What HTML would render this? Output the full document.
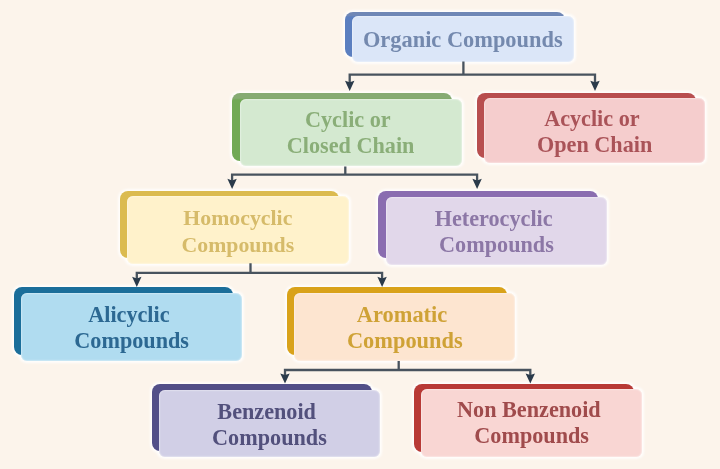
<!DOCTYPE html><html><head><meta charset="utf-8"><style>
*{margin:0;padding:0;box-sizing:border-box}
html,body{width:720px;height:469px;overflow:hidden;background:#fcf4eb}
body{position:relative;font-family:"Liberation Serif",serif;font-weight:bold;font-size:22.2px}
.b{position:absolute;border-radius:8px;box-shadow:0 0 2.5px 1.3px rgba(255,255,255,.85)}
.f{position:absolute;border-radius:6px;display:flex;flex-direction:column;align-items:center;justify-content:center;line-height:26.4px;text-align:center;box-shadow:inset 0 0 1.5px .5px rgba(255,255,255,.6);white-space:nowrap;padding-top:3px}
svg{position:absolute;left:0;top:0}
#w{position:absolute;left:0;top:0;width:720px;height:469px;filter:blur(.35px)}
.g{position:absolute;border-radius:6px;box-shadow:0 0 2.5px 1.3px rgba(255,255,255,.85)}
</style></head><body><div id="w">
<div class="g" style="left:351.6px;top:16.0px;width:222.4px;height:46.3px"></div>
<div class="b" style="left:345.1px;top:12.2px;width:219.5px;height:45px;background:linear-gradient(180deg,#6f87b6 0,#6f87b6 3.3px,#5b7fc0 5.3px)"></div>
<div class="f" style="left:351.6px;top:16.0px;width:222.4px;height:46.3px;background:#dbe6f8;color:#7489ae;padding-top:2.4px;font-size:22.4px"><div>Organic Compounds</div></div>
<div class="g" style="left:239.5px;top:98.7px;width:222.2px;height:67.8px"></div>
<div class="b" style="left:232.25px;top:93.1px;width:219.5px;height:68px;background:linear-gradient(180deg,#86ab74 0,#86ab74 5.1px,#71a955 7.1px)"></div>
<div class="f" style="left:239.5px;top:98.7px;width:222.2px;height:67.8px;background:#d4e9d0;color:#8aae78;padding-top:1.4px;font-size:22.2px"><div>Cyclic or&nbsp;<br>Closed Chain</div></div>
<div class="g" style="left:484px;top:98px;width:221.3px;height:64.8px"></div>
<div class="b" style="left:476.7px;top:93.1px;width:219.5px;height:65px;background:#b84e4f"></div>
<div class="f" style="left:484px;top:98px;width:221.3px;height:64.8px;background:#f5cdcd;color:#aa5358;padding-top:3.6px;font-size:22.2px"><div>Acyclic or&nbsp;<br>Open Chain</div></div>
<div class="g" style="left:126.6px;top:195.8px;width:222.5px;height:68.5px"></div>
<div class="b" style="left:119.8px;top:191px;width:219.5px;height:67px;background:#dbbb50"></div>
<div class="f" style="left:126.6px;top:195.8px;width:222.5px;height:68.5px;background:#fff2cb;color:#d6bb6a;padding-top:3.6px;font-size:21.8px"><div>Homocyclic<br>Compounds</div></div>
<div class="g" style="left:385.8px;top:196.8px;width:221.3px;height:67.8px"></div>
<div class="b" style="left:378.1px;top:191.1px;width:219.5px;height:67px;background:#8a6db0"></div>
<div class="f" style="left:385.8px;top:196.8px;width:221.3px;height:67.8px;background:#e1d7ea;color:#8c77a6;padding-top:2.6px;font-size:22.2px"><div>Heterocyclic&nbsp;<br>Compounds</div></div>
<div class="g" style="left:21.0px;top:293.2px;width:221.3px;height:67.5px"></div>
<div class="b" style="left:13.8px;top:286.9px;width:219.5px;height:68.2px;background:#1b6e9a"></div>
<div class="f" style="left:21.0px;top:293.2px;width:221.3px;height:67.5px;background:#b0dcf0;color:#2c6892;padding-top:3.0px;font-size:22.2px"><div>Alicyclic&nbsp;<br>Compounds</div></div>
<div class="g" style="left:294.2px;top:292.8px;width:221.3px;height:68.6px"></div>
<div class="b" style="left:287px;top:287.3px;width:219.5px;height:67.4px;background:#d9a21a"></div>
<div class="f" style="left:294.2px;top:292.8px;width:221.3px;height:68.6px;background:#fde5d0;color:#cfa236;padding-top:2.6px;font-size:22.4px"><div>Aromatic&nbsp;<br>Compounds</div></div>
<div class="g" style="left:158.8px;top:389.5px;width:221.3px;height:67.3px"></div>
<div class="b" style="left:152px;top:384.4px;width:219.5px;height:67px;background:#524f88"></div>
<div class="f" style="left:158.8px;top:389.5px;width:221.3px;height:67.3px;background:#d1cfe6;color:#52507c;padding-top:4.0px;font-size:22.2px"><div>Benzenoid&nbsp;<br>Compounds</div></div>
<div class="g" style="left:421.0px;top:389px;width:221.3px;height:67.8px"></div>
<div class="b" style="left:414.2px;top:384px;width:219.5px;height:67.5px;background:#b83a36"></div>
<div class="f" style="left:421.0px;top:389px;width:221.3px;height:67.8px;background:#f9d6d3;color:#a04b4c;padding-top:1.2px;font-size:22.2px"><div>Non Benzenoid&nbsp;<br>Compounds</div></div>
<svg width="720" height="469" viewBox="0 0 720 469"><path d="M463.4 61.4V74.6M349.7 83.9V74.6H595.0V83.9" fill="none" stroke="#48535e" stroke-width="2.3"/><path d="M345.0 80.7L349.7 90.9L354.4 80.7L349.7 82.3Z" fill="#2a3a4a"/><path d="M590.3 80.7L595.0 90.9L599.7 80.7L595.0 82.3Z" fill="#2a3a4a"/><path d="M345.3 166.5V174.6M232.1 182.0V174.6H477.1V182.0" fill="none" stroke="#48535e" stroke-width="2.3"/><path d="M227.4 178.8L232.1 189.0L236.8 178.8L232.1 180.4Z" fill="#2a3a4a"/><path d="M472.4 178.8L477.1 189.0L481.8 178.8L477.1 180.4Z" fill="#2a3a4a"/><path d="M250.5 263.3V272.9M136.8 280.0V272.9H382.1V280.0" fill="none" stroke="#48535e" stroke-width="2.3"/><path d="M132.1 276.8L136.8 287.0L141.5 276.8L136.8 278.4Z" fill="#2a3a4a"/><path d="M377.4 276.8L382.1 287.0L386.8 276.8L382.1 278.4Z" fill="#2a3a4a"/><path d="M398.7 361.0V370.0M285.0 376.6V370.0H530.3V376.6" fill="none" stroke="#48535e" stroke-width="2.3"/><path d="M280.3 373.4L285.0 383.6L289.7 373.4L285.0 375.0Z" fill="#2a3a4a"/><path d="M525.6 373.4L530.3 383.6L535.0 373.4L530.3 375.0Z" fill="#2a3a4a"/></svg>
</div></body></html>
